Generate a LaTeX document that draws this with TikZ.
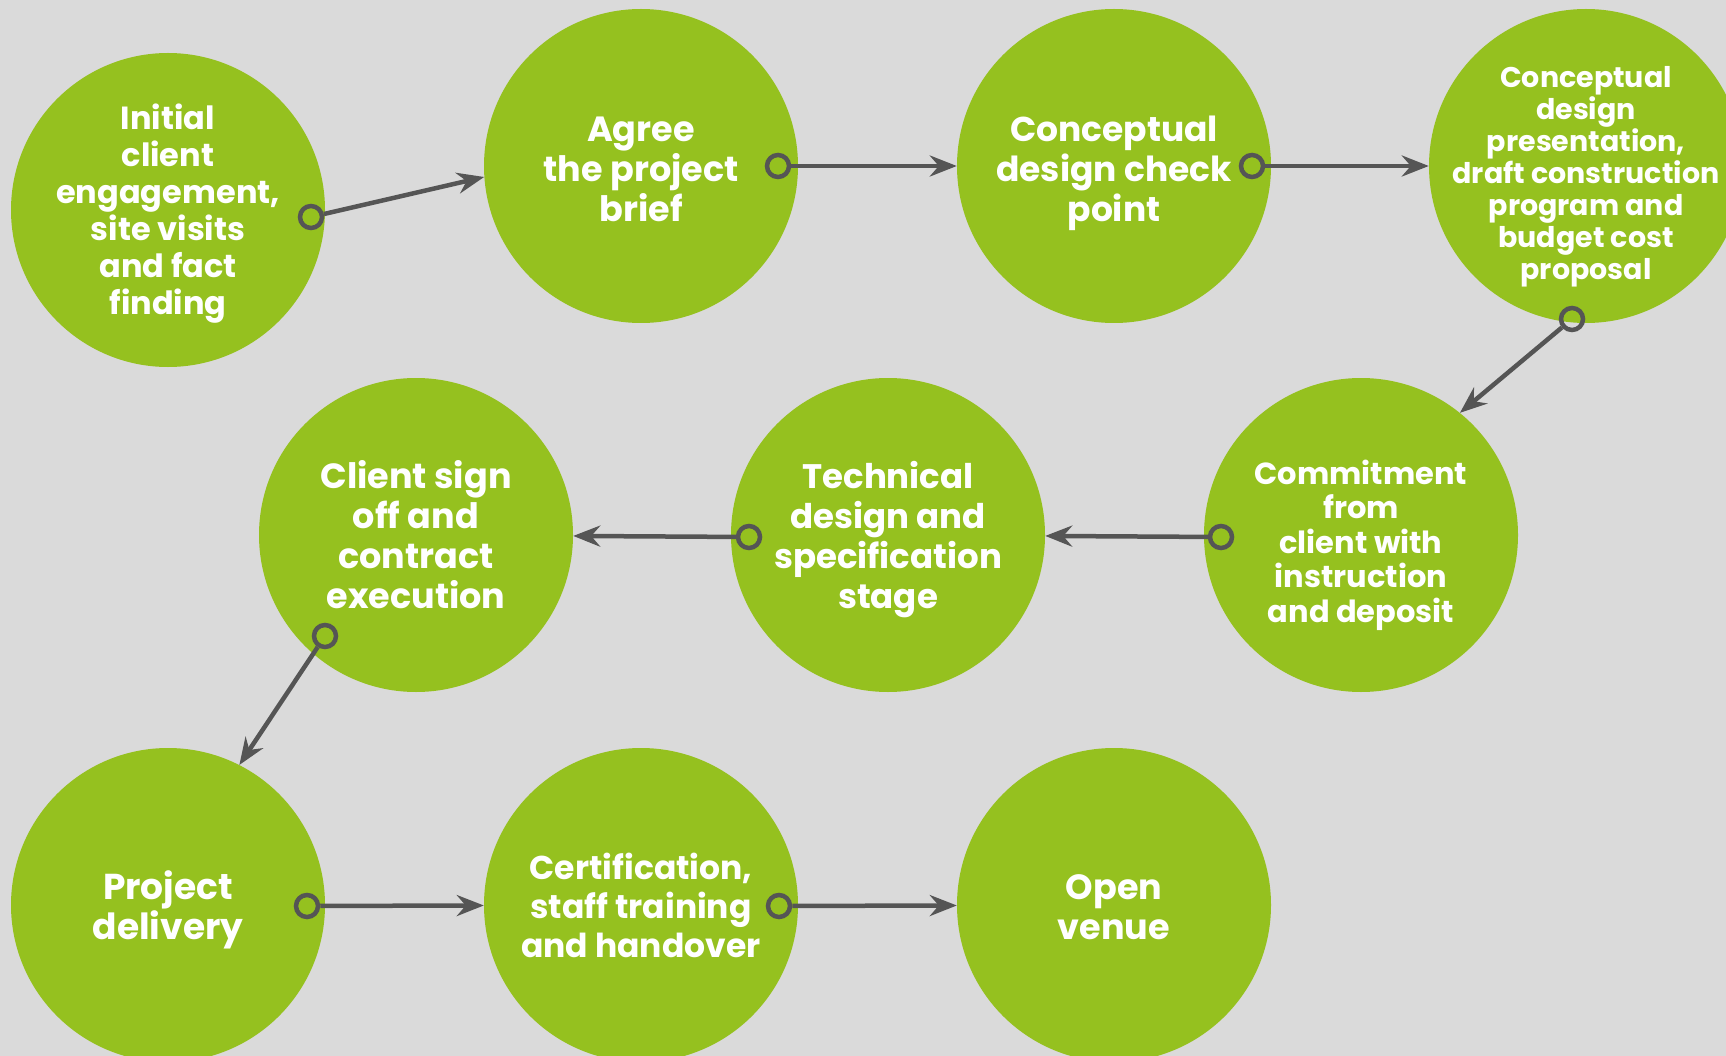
\documentclass[tikz,border=0pt]{standalone}
\usepackage{fontspec}
\setmainfont{Poppins}
\usetikzlibrary{arrows.meta}
\definecolor{bg}{HTML}{DADADA}
\definecolor{leaf}{HTML}{95C11F}
\definecolor{wire}{HTML}{555555}
\tikzset{
  stage/.style={circle, fill=leaf, minimum size=314pt, inner sep=0pt},
  caption/.style={align=center, text=white, inner sep=0pt},
  fs/.style 2 args={font=\bfseries\fontsize{#1}{#2}\selectfont},
  ring/.style={circle, draw=wire, line width=4.5pt, minimum size=22pt, inner sep=0pt},
  link/.style={draw=wire, line width=4.5pt, -{Stealth[length=27pt,width=21pt,inset=9pt]}}
}
\begin{document}
\begin{tikzpicture}[x=1pt, y=-1pt]
\fill[bg] (0,0) rectangle (1726,1056);
\useasboundingbox (0,0) rectangle (1726,1056);
\clip (0,0) rectangle (1726,1056);
% stages
\node[stage] (n1) at (168,210) {};
\node[stage] (n2) at (641,166) {};
\node[stage] (n3) at (1114,166) {};
\node[stage] (n4) at (1586,166) {};
\node[stage] (n5) at (1361,535) {};
\node[stage] (n6) at (888,535) {};
\node[stage] (n7) at (416,535) {};
\node[stage] (n8) at (168,905) {};
\node[stage] (n9) at (641,905) {};
\node[stage] (n10) at (1114,905) {};
% captions
\node[caption, fs={32}{37}, yshift=-4pt] (t1) at (n1.center) {Initial\\client\\engagement,\\site visits\\and fact\\finding};
\node[caption, fs={35}{40}, yshift=-3pt] (t2) at (n2.center) {Agree\\the project\\brief};
\node[caption, fs={34.5}{40}, yshift=-7pt] (t3) at (n3.center) {Conceptual\\design check\\point};
\node[caption, fs={28.5}{32}, yshift=-11pt] (t4) at (n4.center) {Conceptual\\design\\presentation,\\draft construction\\program and\\budget cost\\proposal};
\node[caption, fs={30.5}{34.5}, yshift=-10pt] (t5) at (n5.center) {Commitment\\from\\client with\\instruction\\and deposit};
\node[caption, fs={34}{40}, yshift=-5pt] (t6) at (n6.center) {Technical\\design and\\specification\\stage};
\node[caption, fs={35}{40}] (t7) at (n7.center) {Client sign\\off and\\contract\\execution};
\node[caption, fs={36}{40}, yshift=-5pt] (t8) at (n8.center) {Project\\delivery};
\node[caption, fs={33}{39}] (t9) at (n9.center) {Certification,\\staff training\\and handover};
\node[caption, fs={35}{40}, yshift=-2pt] (t10) at (n10.center) {Open\\venue};
% rings
\node[ring] (r1) at (311,217) {};
\node[ring] (r2) at (778,166) {};
\node[ring] (r3) at (1252,166) {};
\node[ring] (r4) at (1572,319) {};
\node[ring] (r5) at (1221,537) {};
\node[ring] (r6) at (749,537) {};
\node[ring] (r7) at (325,636) {};
\node[ring] (r8) at (307,906) {};
\node[ring] (r9) at (779,906) {};
% connectors
\draw[link] (r1) -- (n2.184);
\draw[link] (r2) -- (n3);
\draw[link] (r3) -- (n4);
\draw[link] (r4) -- (n5.51);
\draw[link] (r5) -- (n6);
\draw[link] (r6) -- (n7);
\draw[link] (r7) -- (n8.63);
\draw[link] (r8) -- (n9);
\draw[link] (r9) -- (n10);
\end{tikzpicture}
\end{document}
